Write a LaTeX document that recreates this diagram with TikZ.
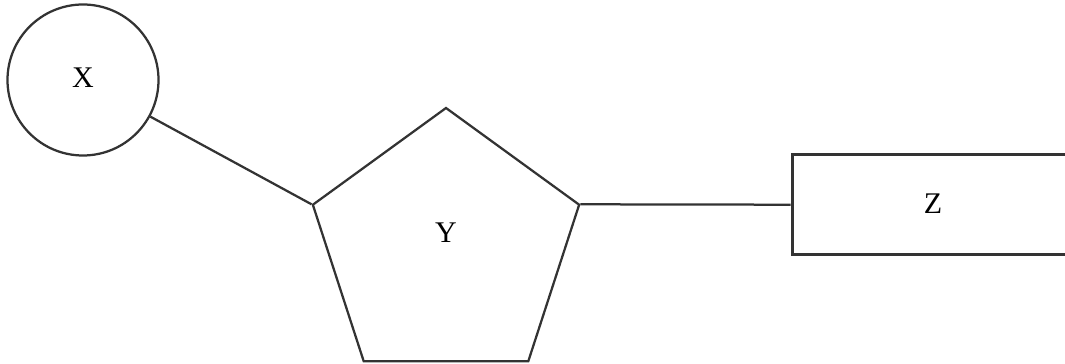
\documentclass[tikz,border=0pt]{standalone}
\usepackage{fontspec}
\setmainfont{Liberation Serif}
\usetikzlibrary{shapes.geometric}
\begin{document}
\begin{tikzpicture}[x=0.4pt,y=-0.4pt,
  every node/.style={font=\fontsize{12}{14}\selectfont, inner sep=0pt},
  shapeline/.style={draw=black!80, line width=0.9pt, fill=white},
  conn/.style={draw=black!80, line width=0.9pt}]
\useasboundingbox (0,0) rectangle (1065,364);
\node[shapeline, circle, minimum size=60.4pt] (x) at (83,80) {\raisebox{1.5pt}{X}};
\node[shapeline, regular polygon, regular polygon sides=5, minimum size=112pt,
      label={[yshift=6pt, font=\fontsize{12}{14}\selectfont]center:Y}] (y) at (446,248) {};
\node[shapeline, rectangle, line width=1.2pt, minimum width=112.8pt, minimum height=40pt] (z) at (933,204.7) {\raisebox{0.8pt}{Z}};
\draw[conn] (x) -- (y.corner 2);
\draw[conn] (y.corner 5) -- (z.west);
\end{tikzpicture}
\end{document}
